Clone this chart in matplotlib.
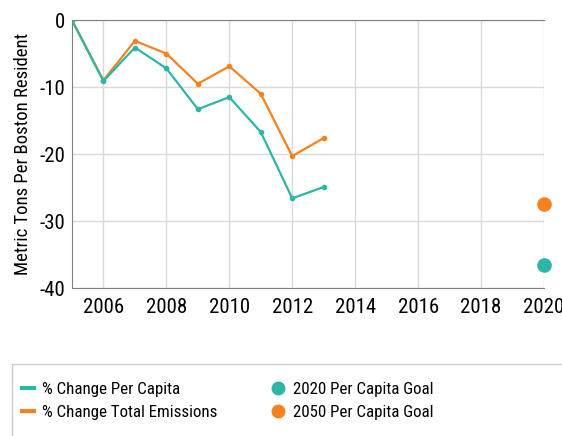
import matplotlib.pyplot as plt
from matplotlib.lines import Line2D
from matplotlib.patches import Rectangle

plt.rcParams['font.family'] = ['Roboto Condensed', 'Roboto', 'DejaVu Sans']
plt.rcParams['axes.unicode_minus'] = False

# data
years = [2005, 2006, 2007, 2008, 2009, 2010, 2011, 2012, 2013]
per_capita = [0, -9.1, -4.1, -7.2, -13.3, -11.5, -16.7, -26.6, -24.9]
total_emissions = [0, -9.0, -3.1, -5.0, -9.5, -6.9, -11.0, -20.3, -17.6]
goal_year = 2020
goal_2020 = -36.5
goal_2050 = -27.5

teal = "#2db5a6"
orange = "#f5821f"

fig = plt.figure(figsize=(5.62, 4.36), dpi=100)
ax = fig.add_axes([0.128, 0.339, 0.84, 0.615])

ax.plot(years, total_emissions, color=orange, lw=1.6, marker="o", ms=3)
ax.plot(years, per_capita, color=teal, lw=1.6, marker="o", ms=3)
ax.plot([goal_year], [goal_2050], "o", color=orange, ms=9.5, clip_on=False)
ax.plot([goal_year], [goal_2020], "o", color=teal, ms=9.5, clip_on=False)

ax.set_xlim(2005, 2020)
ax.set_ylim(-40, 0)
ax.set_xticks([2006, 2008, 2010, 2012, 2014, 2016, 2018, 2020])
ax.set_yticks([0, -10, -20, -30, -40])
ax.tick_params(length=0, labelsize=15, pad=5)
ax.tick_params(axis="x", pad=7)
ax.grid(color="#d9d9d9", lw=1)
ax.set_axisbelow(True)
for s in ["top", "bottom", "left"]:
    ax.spines[s].set_color("#808080")
ax.spines["right"].set_visible(False)
ax.set_ylabel("Metric Tons Per Boston Resident", fontsize=13.5, labelpad=5)

# legend box that runs off the page
fig.patches.append(Rectangle((12 / 562, -0.1), 1.0, 1 - 364 / 436 + 0.1,
                             transform=fig.transFigure, fill=False,
                             edgecolor="#cccccc", lw=1))

line_handles = [Line2D([], [], color=teal, lw=3),
                Line2D([], [], color=orange, lw=3)]
line_labels = ["% Change Per Capita", "% Change Total Emissions"]
dot_handles = [Line2D([], [], ls="none", marker="o", color=teal, ms=9),
               Line2D([], [], ls="none", marker="o", color=orange, ms=9)]
dot_labels = ["2020 Per Capita Goal", "2050 Per Capita Goal"]

leg_kw = dict(loc="upper left", frameon=False, fontsize=12.2, borderpad=0,
              handlelength=0.72, labelspacing=0.45, borderaxespad=0)
fig.legend(line_handles, line_labels, bbox_to_anchor=(22 / 562, 0.124),
           handletextpad=0.48, **leg_kw)
fig.legend(dot_handles, dot_labels, bbox_to_anchor=(272 / 562, 0.124),
           handletextpad=0.52, **leg_kw)

fig.savefig("out.png", dpi=100)
